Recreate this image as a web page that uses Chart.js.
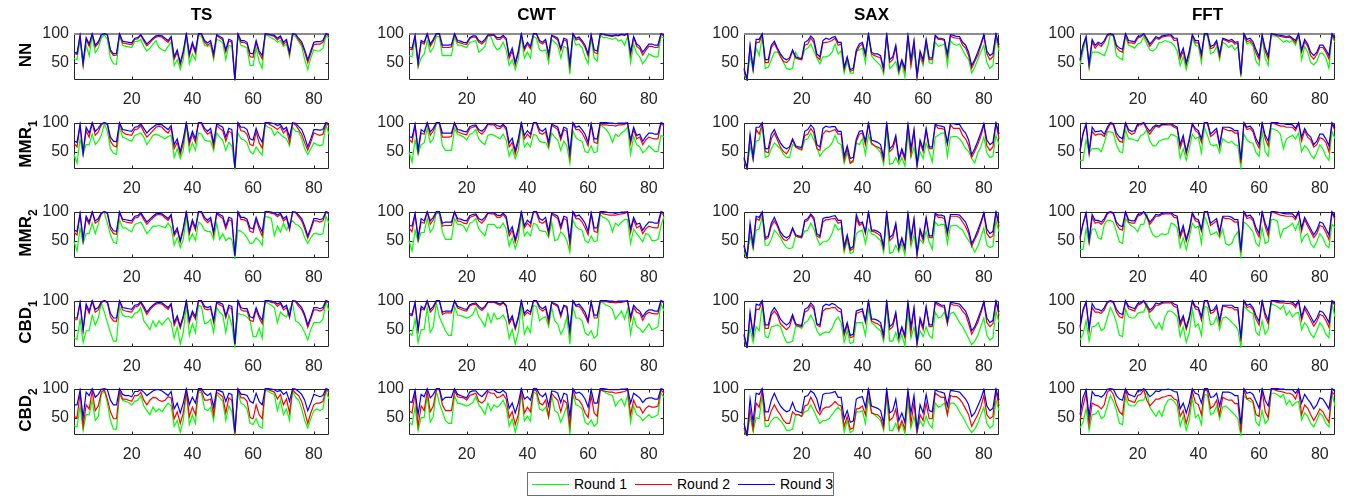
<!DOCTYPE html>
<html>
<head>
<meta charset="utf-8">
<script src="https://cdn.jsdelivr.net/npm/chart.js@4.4.1/dist/chart.umd.min.js"></script>
<style>
  body { margin: 0; background: #fff; width: 1349px; height: 497px; position: relative; overflow: hidden;
         font-family: "Liberation Sans", Arial, sans-serif; }
  canvas { position: absolute; }
  .title { position: absolute; font-weight: bold; font-size: 17px; color: #000; transform: translate(-50%, -50%); white-space: nowrap; }
  .rowlab { position: absolute; width: 90px; height: 20px; line-height: 20px; text-align: center; font-weight: bold; font-size: 17px;
            color: #000; transform: translate(-50%, -50%) rotate(-90deg); white-space: nowrap; }
  .rowlab .sub { font-size: 12px; position: relative; top: 6px; }
  #legend { position: absolute; left: 527px; top: 472px; width: 305px; height: 22px; border: 1px solid #6e6e6e; background: #fff; }
  #legend .ln { position: absolute; top: 11px; width: 37px; height: 1px; }
  #legend .tx { position: absolute; top: 3px; font-size: 14px; line-height: 16px; color: #000; }
</style>
</head>
<body>
<div id="legend"></div>
<script>
// sample index 1..85
const xLabels = Array.from({ length: 85 }, (_, i) => i + 1);
const xTicks = [20, 40, 60, 80];
const yTicks = [50, 100];
const methods = ['TS', 'CWT', 'SAX', 'FFT'];
const models = ['NN', 'MMR|1', 'MMR|2', 'CBD|1', 'CBD|2'];
const rounds = ['Round 1', 'Round 2', 'Round 3'];
const roundColors = ['#00ff00', '#ff0000', '#0000ff'];

// ---- TS ----
const tsNN1 = [57,55,88,43,80,62,95,67,75,92, 98,90,58,48,47,96,80,78,77,76, 86,87,90,78,70,75,82,88,76,72, 70,78,86,45,55,38,55,96,48,65, 55,97,95,80,78,80,55,90,88,84, 55,80,78,18,95,80,78,75,45,45, 75,52,40,98,96,93,90,85,88,78, 82,60,97,95,86,78,55,38,58,72, 70,70,75,96,92];
const tsNN2 = [66,64,95,46,90,78,99,77,83,97, 100,97,69,62,63,99,84,83,82,81, 90,91,97,87,79,84,90,94,95,94, 89,85,93,56,68,46,66,99,61,81, 66,99,99,85,80,84,60,97,93,89, 68,87,85,20,99,85,85,82,60,59, 85,66,56,100,98,97,95,89,94,81, 87,64,99,98,89,82,68,50,66,81, 82,82,85,99,96];
const tsNN3 = [68,66,97,50,93,82,100,80,86,98, 100,98,72,65,66,100,87,86,85,84, 92,93,98,90,82,87,92,96,97,96, 92,88,95,60,72,50,70,100,65,85, 70,100,100,88,84,88,65,98,95,92, 72,90,88,20,100,88,88,85,66,65, 88,70,62,100,99,98,97,92,96,85, 90,68,100,99,92,86,72,55,70,85, 86,86,88,100,98];
const tsM11 = [45,30,72,45,62,62,80,62,68,78, 98,85,55,47,45,92,75,73,70,68, 78,80,82,75,62,70,78,80,78,75, 72,76,78,40,55,38,52,95,50,65, 52,82,80,70,68,68,52,82,75,70, 52,66,60,20,82,72,70,65,50,46, 58,50,44,96,92,90,78,85,80,75, 72,60,92,85,84,72,55,45,55,65, 62,60,62,96,80];
const tsM12 = [64,58,95,46,86,75,99,78,84,96, 100,96,68,60,58,99,84,80,79,78, 88,89,95,84,75,80,86,92,94,92, 86,82,91,55,66,45,64,99,62,80, 66,99,98,86,80,84,58,95,90,86, 68,85,82,22,99,86,85,80,62,60, 84,65,56,100,98,95,92,88,93,82, 88,65,99,96,88,80,65,52,66,82, 80,78,80,99,94];
const tsM13 = [68,66,97,48,92,82,100,85,90,98, 100,98,75,68,67,100,88,87,86,85, 92,93,98,90,82,88,92,96,97,96, 92,88,95,62,72,50,72,100,68,85, 72,100,100,90,85,90,65,98,95,92, 75,90,88,22,100,92,92,88,72,70, 90,75,66,100,100,99,98,95,97,88, 92,75,100,99,93,88,75,58,72,88, 88,87,88,100,98];
const tsM21 = [48,32,72,45,62,62,80,62,78,98, 98,80,60,47,45,86,72,72,68,65, 78,80,82,72,62,68,75,75,76,74, 72,80,72,42,55,38,52,90,50,62, 50,82,78,68,66,65,52,80,52,62, 50,55,52,20,68,66,62,55,45,46, 55,50,42,92,90,88,58,75,65,80, 68,80,84,78,76,70,55,45,55,62, 62,60,62,92,80];
const tsM22 = [64,60,95,50,88,78,99,80,84,96, 100,96,70,62,61,99,84,82,81,80, 89,90,96,86,78,84,89,94,95,94, 89,85,93,58,68,47,68,99,62,82, 68,99,98,86,81,86,60,96,92,88, 70,86,84,24,99,86,86,83,66,64, 86,70,58,100,99,97,96,91,95,84, 89,68,99,98,91,84,70,54,68,84, 84,82,84,99,96];
const tsM23 = [68,66,97,52,92,82,100,84,88,98, 100,98,75,67,66,100,87,86,85,84, 92,93,98,90,82,87,92,96,97,96, 92,88,95,62,72,50,72,100,66,86, 72,100,100,90,85,90,65,98,95,92, 75,90,88,24,100,90,90,87,72,70, 90,75,65,100,100,99,98,94,97,88, 92,72,100,99,94,88,75,58,72,88, 88,86,88,100,98];
const tsC11 = [36,33,68,28,48,48,75,58,70,96, 80,62,45,30,30,90,75,72,73,70, 78,80,88,65,58,50,65,55,65,58, 65,70,62,35,55,25,45,92,40,60, 45,92,90,60,62,68,45,88,80,75, 45,75,58,20,78,76,75,72,65,38, 38,52,35,98,95,92,88,62,80,75, 72,85,95,65,62,55,45,32,50,62, 62,62,68,98,82];
const tsC12 = [67,67,95,48,90,78,99,80,84,96, 100,96,72,65,64,99,84,82,81,80, 89,90,96,86,76,84,90,94,95,94, 89,85,93,57,70,52,70,99,62,78, 68,99,98,86,84,86,62,96,93,90, 70,88,86,25,99,84,82,82,66,64, 84,70,60,100,99,97,96,90,95,84, 88,70,99,98,90,84,72,54,68,84, 84,82,84,99,96];
const tsC13 = [70,70,97,50,94,82,100,85,88,98, 100,98,78,70,70,100,88,87,86,85, 92,93,98,90,80,87,92,96,97,96, 92,88,95,62,74,56,74,100,66,82, 72,100,100,90,88,90,66,98,96,94, 74,92,90,25,100,88,86,86,72,70, 88,74,66,100,100,99,98,94,97,88, 92,74,100,99,94,88,76,58,72,88, 88,86,88,100,98];
const tsC21 = [36,34,70,28,55,55,80,45,52,90, 96,75,45,30,30,90,80,78,76,72, 78,80,88,70,62,55,68,60,65,60, 68,75,70,35,45,25,45,92,38,55, 40,95,92,65,62,68,45,90,85,78, 45,70,60,20,92,75,72,65,40,38, 48,35,32,98,95,92,90,62,80,55, 65,45,95,85,80,65,45,32,48,62, 65,62,65,96,82];
const tsC22 = [52,50,92,35,72,65,96,62,70,94, 98,82,60,48,48,96,82,82,80,78, 88,88,94,80,72,80,85,84,80,78, 80,86,84,48,60,40,58,96,52,68, 55,98,96,80,80,82,55,94,90,86, 58,84,80,20,98,84,84,78,50,48, 72,55,48,99,98,96,94,82,90,72, 82,58,98,92,88,78,60,40,58,72, 75,75,78,98,94];
const tsC23 = [72,72,97,50,94,88,100,85,90,99, 100,98,80,72,72,100,90,88,88,86, 95,95,98,94,88,92,96,98,98,96, 92,88,95,65,75,58,75,100,72,85, 75,100,100,92,88,92,68,98,96,94, 78,92,90,25,100,90,90,88,78,75, 92,78,72,100,100,99,98,95,97,90, 94,78,100,99,95,90,80,62,75,90, 88,86,88,100,98];

// ---- CWT ----
const cwNN1 = [62,60,90,42,58,65,88,68,75,95, 95,62,62,62,62,95,80,80,78,76, 85,86,88,68,72,78,96,95,80,72, 75,85,72,45,55,38,55,95,58,68, 58,95,92,72,70,72,50,90,85,80, 58,78,75,30,95,80,82,76,60,48, 92,58,52,98,93,93,92,90,93,87, 89,80,95,50,82,66,60,48,55,65, 62,60,60,95,92];
const cwNN2 = [73,72,95,46,85,82,99,78,87,99, 99,76,76,76,77,99,85,84,82,81, 91,94,94,85,82,87,97,97,97,90, 90,95,89,57,70,46,66,99,71,82, 74,99,99,85,82,87,60,96,93,89, 71,89,87,44,99,89,91,85,76,61, 97,68,65,99,98,97,96,95,97,96, 98,97,99,63,93,78,74,63,71,78, 78,76,76,99,96];
const cwNN3 = [76,75,97,50,88,85,100,82,90,100, 100,80,80,80,81,100,88,87,85,84, 93,96,96,88,85,90,98,98,98,93, 93,97,92,62,75,50,70,100,75,85, 78,100,100,88,85,90,65,97,95,92, 75,92,90,48,100,92,94,88,80,65, 98,72,70,100,99,98,97,96,98,97, 99,98,100,68,95,82,78,68,75,82, 82,80,80,100,98];
const cwM11 = [50,32,70,45,62,65,90,65,72,98, 98,60,52,52,52,90,80,78,75,70, 80,82,88,72,66,62,78,80,78,75, 72,80,70,42,55,38,52,95,58,65, 58,80,78,68,66,66,55,82,75,70, 52,68,60,30,86,74,70,68,50,48, 60,48,50,98,92,88,80,66,80,76, 82,86,92,46,76,62,58,48,52,60, 55,50,50,78,75];
const cwM12 = [72,66,95,50,82,80,99,78,86,99, 99,75,75,75,76,99,84,82,80,79, 90,92,94,84,80,86,97,96,96,90, 90,95,88,58,66,46,66,99,72,80, 74,99,98,82,80,84,60,95,92,88, 70,88,85,40,99,88,88,82,72,60, 96,66,64,99,96,96,95,95,94,96, 96,97,99,64,88,72,75,62,70,75, 73,72,72,98,94];
const cwM13 = [76,74,97,52,88,84,100,84,90,100, 100,82,82,82,82,100,88,87,85,84, 93,95,96,88,85,90,98,98,98,95, 93,97,92,65,73,52,72,100,78,86, 80,100,100,88,85,90,66,97,95,92, 75,92,90,48,100,92,94,88,80,66, 98,72,72,100,100,100,99,99,98,99, 99,99,100,70,92,78,80,68,76,82, 82,80,80,100,98];
const cwM21 = [50,32,68,48,64,64,88,64,72,98, 96,65,52,52,52,88,78,78,75,66, 80,82,88,70,64,58,78,78,78,72, 72,80,70,40,55,36,52,95,58,65, 58,80,78,68,66,66,55,82,50,52, 65,60,50,30,86,74,70,68,50,46, 58,48,50,95,90,88,82,65,80,76, 82,86,86,45,70,62,55,48,62,60, 50,50,52,75,92];
const cwM22 = [72,65,95,52,82,80,99,78,86,99, 99,75,76,76,76,99,84,83,80,79, 90,92,94,84,80,86,97,96,96,90, 90,95,88,58,68,47,66,99,72,80, 74,99,98,82,80,84,60,95,92,88, 70,88,85,42,99,88,88,82,72,60, 96,66,64,99,96,95,94,94,94,95, 96,97,99,64,86,72,75,62,70,75, 73,72,72,98,94];
const cwM23 = [76,75,97,55,88,84,100,84,90,100, 100,80,82,82,82,100,88,87,85,84, 93,95,96,88,85,90,98,98,98,94, 93,97,92,64,74,52,72,100,76,85, 80,100,100,88,85,90,66,97,95,92, 75,92,90,50,100,92,94,88,80,66, 98,72,72,100,100,99,98,98,97,98, 99,99,100,70,90,78,80,68,76,82, 82,80,80,100,98];
const cwC11 = [45,40,68,28,50,50,88,45,55,96, 72,60,48,40,40,90,75,74,72,70, 72,76,88,72,65,55,78,62,78,68, 70,75,65,35,50,25,45,92,42,55, 45,92,90,65,70,72,55,88,65,60, 42,52,72,25,90,70,70,65,45,40, 48,35,40,98,96,92,90,85,68,75, 82,68,85,42,72,55,52,45,52,60, 50,52,55,95,82];
const cwC12 = [75,74,95,48,86,84,99,80,86,99, 99,76,79,79,79,99,87,85,83,82, 91,93,94,87,83,88,97,97,97,94, 92,96,90,60,70,50,68,99,74,80, 76,99,99,86,82,86,62,96,93,90, 72,90,88,44,99,90,90,84,74,62, 97,70,70,99,98,98,97,97,96,97, 97,98,99,66,88,80,78,66,76,80, 78,77,77,99,96];
const cwC13 = [78,76,97,50,90,86,100,84,90,100, 100,80,82,82,82,100,90,88,86,85, 93,95,96,90,86,90,98,98,98,96, 94,97,92,64,74,54,72,100,78,84, 80,100,100,90,86,90,68,97,95,92, 76,92,90,48,100,92,94,88,80,66, 98,75,75,100,100,100,99,99,98,99, 99,99,100,72,92,86,82,72,80,84, 84,82,82,100,98];
const cwC21 = [42,38,68,28,50,50,88,42,52,96, 75,60,45,40,40,88,75,74,72,70, 72,76,86,72,65,55,75,62,72,68, 72,80,68,35,48,25,45,92,44,52, 44,95,90,65,62,68,50,88,62,58, 42,55,70,22,90,72,70,65,42,38, 46,35,40,98,96,92,90,88,70,78, 82,70,88,42,70,55,52,45,50,55, 50,52,55,92,85];
const cwC22 = [62,58,92,35,70,62,96,60,70,98, 98,72,62,62,62,96,86,85,84,80, 88,90,92,78,75,80,95,92,92,84, 86,90,82,50,60,38,55,98,58,68, 60,98,96,75,72,80,52,92,85,80, 60,80,75,35,98,82,80,72,58,50, 88,58,52,99,96,95,94,94,92,93, 94,95,98,55,80,68,68,58,66,70, 68,68,70,98,92];
const cwC23 = [78,76,97,55,90,86,100,84,90,100, 100,80,85,85,85,100,90,88,86,84, 94,96,96,90,86,92,98,98,98,94, 93,97,92,66,75,58,75,100,82,86, 80,100,100,90,86,92,70,96,95,92, 76,92,90,52,100,92,94,90,82,68, 98,75,75,100,100,99,98,98,98,98, 99,99,100,75,92,88,84,76,82,84, 84,82,82,100,98];

// ---- SAX ----
const sxNN1 = [30,20,62,35,75,62,96,40,42,55, 68,68,62,50,40,38,40,68,58,55, 72,75,82,70,58,48,60,60,62,68, 82,65,70,32,52,32,32,70,72,75, 50,97,62,55,50,45,30,97,40,45, 52,30,50,25,92,45,72,25,60,45, 80,50,48,85,78,80,82,45,88,82, 80,82,72,62,55,32,42,55,68,80, 50,40,45,92,70];
const sxNN2 = [38,20,78,38,85,85,98,50,50,76, 83,72,60,52,50,55,70,58,56,55, 80,82,92,85,60,55,84,85,86,88, 92,80,82,38,58,35,37,68,78,82, 62,98,65,62,60,58,36,98,50,55, 76,35,52,36,96,45,85,25,65,50, 87,55,55,96,90,90,88,60,96,93, 92,92,80,75,62,40,52,62,78,96, 65,55,60,98,76];
const sxNN3 = [40,22,80,40,90,90,100,55,55,80, 87,75,65,58,55,58,72,60,58,57, 85,88,96,90,65,60,88,92,90,93, 95,85,85,42,60,38,40,72,82,85, 65,100,68,65,65,62,40,100,55,60, 80,38,55,40,98,55,88,28,70,55, 90,58,58,97,92,92,90,65,98,97, 95,95,85,80,68,45,55,68,82,98, 70,62,66,100,80];
const sxM11 = [35,20,60,35,68,70,95,40,42,55, 65,60,55,45,40,40,62,60,55,52, 70,72,82,70,58,42,50,55,58,65, 78,65,62,30,48,30,32,65,62,72, 45,78,62,60,55,48,28,88,28,30, 40,28,40,25,80,40,58,25,50,38, 65,50,32,75,78,82,82,42,75,76, 76,72,65,55,50,38,30,48,58,75, 48,40,42,78,62];
const sxM12 = [38,20,75,38,88,80,98,50,48,72, 82,70,58,50,46,55,70,58,55,54, 78,80,90,82,55,52,80,86,84,86, 88,80,80,35,55,30,35,68,80,82, 62,98,65,60,58,55,35,98,50,55, 72,35,50,36,96,45,85,25,65,50, 87,55,55,96,90,90,88,62,96,90, 90,90,78,72,60,40,50,62,76,96, 60,52,58,98,72];
const sxM13 = [40,22,80,40,92,92,100,55,55,80, 88,75,65,58,55,58,72,60,58,57, 85,88,96,90,62,58,90,94,92,93, 93,85,85,42,60,38,40,72,85,86, 68,100,70,68,66,62,40,100,55,60, 78,38,55,40,98,55,88,28,70,55, 90,58,58,97,95,94,92,65,98,98, 97,97,88,82,70,45,55,68,82,98, 70,62,66,100,80];
const sxM21 = [30,20,58,35,68,70,92,42,42,52, 68,62,55,45,38,36,38,58,56,55, 66,68,80,70,55,42,48,48,52,62, 78,68,72,30,50,28,30,62,66,68, 45,70,62,60,55,50,30,92,28,30, 42,30,45,25,82,40,60,27,52,45, 66,48,35,82,76,78,78,45,75,76, 76,72,68,58,50,42,30,40,55,72, 42,38,40,85,65];
const sxM22 = [40,20,72,40,88,85,98,52,55,75, 84,75,60,52,50,55,70,58,56,55, 82,85,94,86,58,55,82,86,86,88, 88,80,82,35,56,33,36,88,76,80, 62,98,66,65,62,58,36,98,50,55, 76,35,52,35,96,48,85,25,65,50, 87,55,55,96,90,90,88,60,92,92, 92,90,82,74,62,40,52,62,78,96, 62,55,58,98,74];
const sxM23 = [42,22,80,42,92,90,100,55,58,80, 90,78,65,58,55,58,72,60,58,57, 85,88,96,90,62,58,88,90,90,92, 93,85,85,40,60,36,40,95,80,82, 65,100,68,68,66,62,40,100,55,60, 80,38,55,38,98,55,88,28,70,55, 90,58,58,97,94,94,92,65,95,95, 95,94,88,82,68,45,55,68,82,98, 70,62,66,100,80];
const sxC11 = [35,18,52,28,55,48,92,38,36,55, 56,58,55,40,28,28,30,55,55,52, 62,65,75,65,48,40,44,46,45,52, 65,72,62,28,48,26,28,62,62,62, 40,85,62,58,52,48,30,90,30,30, 45,28,42,22,80,35,55,25,48,38, 55,40,35,80,70,72,80,60,78,80, 72,62,55,45,35,24,30,40,55,70, 40,32,36,82,62];
const sxC12 = [40,18,75,40,85,85,98,52,52,75, 82,75,60,55,50,55,72,58,56,55, 80,83,92,85,58,55,82,86,86,88, 88,82,80,40,58,36,38,78,80,82, 62,98,65,62,60,56,36,98,50,55, 76,35,52,36,96,45,85,25,65,50, 87,55,55,96,92,90,88,60,95,92, 92,90,82,76,60,42,52,62,78,96, 62,55,60,98,74];
const sxC13 = [42,20,80,42,94,92,100,58,58,80, 88,80,68,62,58,62,76,60,58,57, 85,88,96,90,60,58,90,94,92,95, 93,88,85,45,62,40,42,82,84,86, 65,100,68,68,66,62,40,100,55,60, 80,38,55,40,98,55,88,28,70,55, 90,58,58,98,95,92,92,65,97,96, 95,94,88,82,68,48,55,68,82,98, 70,62,66,100,80];
const sxC21 = [28,18,52,26,50,48,88,35,35,45, 50,50,45,38,28,28,30,55,55,52, 60,62,72,62,50,40,45,45,48,55, 62,68,62,25,45,24,28,60,60,62, 40,82,60,55,50,45,28,85,28,28, 40,26,40,22,78,32,52,25,45,35, 52,38,32,75,68,70,75,55,75,75, 70,60,52,42,32,24,30,40,55,68, 40,32,36,80,62];
const sxC22 = [32,18,65,30,75,68,98,45,45,62, 72,62,55,45,40,40,60,55,55,52, 70,72,85,75,62,55,65,68,68,72, 78,72,70,35,52,30,32,65,66,70, 55,98,58,56,55,50,32,95,45,50, 65,30,45,30,95,40,75,25,55,45, 75,48,48,92,88,85,85,55,88,86, 86,82,75,65,55,35,45,55,68,88, 55,48,52,95,70];
const sxC23 = [40,20,82,42,92,90,100,60,60,80, 92,80,70,64,60,62,76,62,60,58, 86,88,96,92,82,62,90,92,92,93, 95,85,85,48,62,42,44,82,85,86, 68,100,70,68,66,62,40,100,58,62, 82,45,58,42,98,58,88,30,72,58, 90,62,60,98,95,94,92,70,97,96, 95,94,88,82,72,52,58,70,82,98, 70,62,66,100,80];

// ---- FFT ----
const ftNN1 = [45,70,90,40,68,68,68,65,62,75, 98,95,62,58,55,95,80,78,75,82, 84,95,82,72,70,74,84,85,88,86, 85,80,70,45,60,38,58,92,80,78, 50,98,96,65,68,78,55,85,82,76, 80,72,78,25,96,82,85,78,52,45, 92,58,45,96,96,95,90,85,88,85, 88,80,96,55,78,68,50,46,52,66, 66,58,40,95,85];
const ftNN2 = [53,78,93,44,86,75,82,78,85,96, 99,97,76,70,68,99,84,84,83,92, 94,99,89,78,85,92,90,94,95,96, 96,88,89,56,70,46,66,97,84,84, 60,99,99,74,76,85,60,90,88,85, 87,82,83,28,99,86,88,82,66,55, 96,70,56,99,98,96,95,94,93,94, 90,84,99,68,86,78,62,56,64,76, 76,68,56,98,88];
const ftNN3 = [55,80,95,48,90,80,85,82,88,98, 100,98,80,75,73,100,88,87,86,95, 96,100,92,82,88,95,92,96,97,98, 98,92,92,62,75,50,70,98,88,88, 65,100,100,78,80,88,65,92,90,88, 90,85,86,30,100,90,92,86,72,60, 98,75,62,100,99,98,97,96,95,96, 92,88,100,72,90,82,68,62,68,80, 80,72,62,100,92];
const ftM11 = [35,35,70,48,55,55,55,50,65,84, 84,82,62,50,48,88,72,72,70,68, 78,80,88,68,60,60,68,70,72,72, 80,78,75,38,55,35,55,80,72,75, 48,92,78,62,60,62,48,72,68,65, 68,62,60,22,80,70,66,64,48,42, 85,50,42,90,88,86,80,55,72,75, 78,72,82,50,60,55,45,38,48,62, 55,42,35,85,72];
const ftM12 = [50,80,96,46,85,78,80,80,76,88, 98,96,76,68,66,99,84,80,82,96, 96,99,88,80,88,94,92,96,96,96, 96,92,90,56,72,46,68,97,86,82, 66,99,98,76,80,86,58,90,88,86, 86,82,82,30,99,88,90,84,66,56, 98,72,60,99,98,96,94,94,92,92, 92,86,99,68,86,75,70,58,62,74, 72,66,50,98,86];
const ftM13 = [52,82,98,50,92,84,85,86,80,92, 100,98,82,75,72,100,88,85,86,98, 98,100,92,85,92,96,94,97,97,98, 98,95,92,62,78,50,72,98,90,86, 72,100,100,80,85,90,62,92,92,92, 90,86,86,36,100,92,94,88,72,62, 100,78,68,100,100,100,98,98,97,97, 96,90,100,75,90,80,75,62,68,80, 80,72,60,100,90];
const ftM21 = [35,35,70,45,70,70,55,52,78,85, 85,82,65,48,45,88,80,75,72,65, 78,78,96,72,60,56,58,62,60,62, 80,78,72,38,55,34,55,80,72,75, 45,92,80,60,62,65,55,70,45,42, 45,58,65,22,82,78,72,65,45,40, 72,45,48,86,86,84,56,70,72,75, 80,68,82,48,58,62,45,38,48,62, 55,42,38,78,72];
const ftM22 = [52,78,96,48,90,80,82,78,84,96, 99,96,78,70,68,99,82,80,80,92, 94,99,90,78,85,92,92,95,96,96, 96,90,89,55,70,48,66,96,84,82, 66,99,98,76,80,84,60,90,88,88, 86,82,82,30,99,88,90,84,66,56, 98,74,58,99,98,96,94,93,92,92, 92,86,99,66,86,75,65,55,62,76, 74,64,52,98,86];
const ftM23 = [55,80,98,52,95,85,85,82,88,98, 100,98,82,76,74,100,86,84,84,95, 96,100,92,82,88,95,94,97,98,98, 98,94,92,60,76,52,70,98,88,86, 70,100,100,80,84,88,65,92,92,92, 90,86,86,34,100,92,94,88,72,62, 100,80,66,100,100,99,98,97,96,96, 96,90,100,72,90,80,70,60,68,82, 80,70,60,100,90];
const ftC11 = [32,42,65,30,55,56,62,48,52,70, 88,78,62,40,38,85,72,70,70,78, 80,80,95,70,62,52,62,50,72,82, 82,78,72,38,55,28,45,85,55,60, 40,90,88,58,60,72,50,70,72,68, 62,58,50,20,90,85,80,78,45,40, 65,42,50,95,92,90,85,92,75,82, 72,78,80,50,62,55,42,36,48,62, 55,42,36,95,72];
const ftC12 = [52,82,96,48,88,80,80,78,84,96, 99,96,80,72,70,99,86,84,82,92, 94,99,88,80,85,92,92,95,96,96, 96,90,88,56,70,50,68,98,86,84, 66,99,98,78,80,88,60,90,90,88, 88,84,84,30,99,88,90,84,68,58, 98,72,60,99,98,97,96,96,95,95, 94,88,99,66,86,76,66,56,64,76, 74,66,54,98,92];
const ftC13 = [55,85,98,52,95,86,85,82,88,98, 100,98,85,78,76,100,90,88,86,95, 96,100,92,84,88,96,94,97,98,98, 98,94,92,62,74,54,72,100,90,88, 72,100,100,82,84,92,66,92,92,92, 92,88,88,35,100,92,94,88,74,64, 100,78,66,100,100,100,99,99,98,98, 97,92,100,72,90,82,72,62,70,82, 80,72,62,100,95];
const ftC21 = [32,42,65,28,55,56,62,48,52,70, 88,78,62,40,38,85,72,70,70,78, 80,80,95,68,60,52,62,52,70,80, 82,78,70,35,52,28,45,85,50,55, 38,90,88,55,58,70,48,68,70,65, 60,55,48,18,88,82,78,75,42,36, 62,40,46,92,92,90,85,90,72,80, 70,76,78,46,58,52,40,34,45,58, 52,40,34,92,70];
const ftC22 = [45,70,92,38,75,72,70,65,72,94, 98,90,72,60,55,98,80,78,76,88, 90,98,80,70,76,82,82,85,86,88, 88,82,80,52,62,40,60,96,76,72, 55,98,96,66,70,80,55,85,82,80, 80,74,74,25,98,82,84,78,55,52, 96,60,50,99,98,96,95,94,92,92, 90,82,98,55,72,66,55,45,54,65, 60,50,42,95,88];
const ftC23 = [55,85,98,52,95,88,88,85,90,99, 100,99,88,82,80,100,90,88,86,96, 96,100,94,86,90,96,95,98,98,99, 98,95,94,65,75,58,75,100,92,90, 75,100,100,85,86,92,70,94,94,94, 92,88,88,38,100,92,94,90,78,66, 100,80,70,100,100,100,99,99,98,98, 98,92,100,75,90,82,75,65,72,84, 82,74,65,100,95];

// rows = models, columns = methods, each cell = [round1, round2, round3]
const grid = [
  [[tsNN1, tsNN2, tsNN3], [cwNN1, cwNN2, cwNN3], [sxNN1, sxNN2, sxNN3], [ftNN1, ftNN2, ftNN3]],
  [[tsM11, tsM12, tsM13], [cwM11, cwM12, cwM13], [sxM11, sxM12, sxM13], [ftM11, ftM12, ftM13]],
  [[tsM21, tsM22, tsM23], [cwM21, cwM22, cwM23], [sxM21, sxM22, sxM23], [ftM21, ftM22, ftM23]],
  [[tsC11, tsC12, tsC13], [cwC11, cwC12, cwC13], [sxC11, sxC12, sxC13], [ftC11, ftC12, ftC13]],
  [[tsC21, tsC22, tsC23], [cwC21, cwC22, cwC23], [sxC21, sxC22, sxC23], [ftC21, ftC22, ftC23]]
];

// layout of the plot boxes (px)
const colLeft = [74, 409, 744, 1080];
const rowTop = [29, 118, 207, 296, 384];
const boxW = 255, boxH = 51;
const padL = 50, padT = 10, padR = 10, padB = 30;

Chart.defaults.font.family = '"Liberation Sans", Arial, sans-serif';
Chart.defaults.color = '#262626';

// box round the plot area with small inner ticks, like matlab axes
const framePlugin = {
  id: 'frame',
  beforeDatasetsDraw(chart, args, opts) {
    const { ctx, chartArea: a, scales } = chart;
    const l = Math.round(a.left) + 0.5, r = Math.round(a.right) - 0.5;
    const t = Math.round(a.top) + 0.5, b = Math.round(a.bottom) - 0.5;
    ctx.save();
    ctx.strokeStyle = '#262626';
    ctx.lineWidth = 1;
    ctx.beginPath();
    ctx.moveTo(l, t); ctx.lineTo(l, b); ctx.lineTo(r, b); ctx.lineTo(r, t);
    if (!opts.greyTop) ctx.lineTo(l, t);
    xTicks.forEach(v => {
      const px = Math.round(scales.x.getPixelForValue(v)) + 0.5;
      ctx.moveTo(px, b); ctx.lineTo(px, b - 3);
      ctx.moveTo(px, t); ctx.lineTo(px, t + 3);
    });
    yTicks.forEach(v => {
      const py = Math.round(scales.y.getPixelForValue(v)) + 0.5;
      ctx.moveTo(l, py); ctx.lineTo(l + 3, py);
      ctx.moveTo(r, py); ctx.lineTo(r - 3, py);
    });
    ctx.stroke();
    if (opts.greyTop) {
      // top edge of the first row renders as a soft grey double line
      ctx.strokeStyle = '#8c8c8c';
      ctx.lineWidth = 2;
      ctx.beginPath();
      ctx.moveTo(l - 0.5, Math.round(a.top));
      ctx.lineTo(r + 0.5, Math.round(a.top));
      ctx.stroke();
    }
    ctx.restore();
  }
};

function makePanel(r, c) {
  const cv = document.createElement('canvas');
  cv.width = boxW + padL + padR;
  cv.height = boxH + padT + padB;
  cv.style.left = (colLeft[c] - padL) + 'px';
  cv.style.top = (rowTop[r] - padT) + 'px';
  document.body.appendChild(cv);

  const series = grid[r][c];
  new Chart(cv, {
    type: 'line',
    data: {
      labels: xLabels,
      datasets: series.map((d, k) => ({
        label: rounds[k],
        data: d,
        borderColor: roundColors[k],
        borderWidth: 1.2,
        pointRadius: 0,
        tension: 0,
        fill: false,
        clip: 1,
        order: 3 - k
      }))
    },
    options: {
      responsive: false,
      animation: false,
      events: [],
      layout: { padding: { top: padT, right: padR, left: 0, bottom: 0 } },
      plugins: { legend: { display: false }, tooltip: { enabled: false }, frame: { greyTop: r === 0 } },
      scales: {
        x: {
          type: 'linear', min: 1, max: 85,
          grid: { display: false, drawTicks: false },
          border: { display: false },
          ticks: { font: { size: 16 }, color: '#262626', padding: 10, maxRotation: 0 },
          afterBuildTicks: s => { s.ticks = xTicks.map(v => ({ value: v })); },
          afterFit: s => { s.height = padB; }
        },
        y: {
          min: 20, max: 100,
          grid: { display: false, drawTicks: false },
          border: { display: false },
          ticks: { font: { size: 16 }, color: '#262626', padding: 5 },
          afterBuildTicks: s => { s.ticks = yTicks.map(v => ({ value: v })); },
          afterFit: s => { s.width = padL; }
        }
      }
    },
    plugins: [framePlugin]
  });
}

for (let r = 0; r < models.length; r++) {
  for (let c = 0; c < methods.length; c++) makePanel(r, c);
}

// column titles
methods.forEach((m, c) => {
  const d = document.createElement('div');
  d.className = 'title';
  d.textContent = m;
  d.style.left = (colLeft[c] + boxW / 2) + 'px';
  d.style.top = '15px';
  document.body.appendChild(d);
});

// row labels (rotated, with subscript)
models.forEach((m, r) => {
  const d = document.createElement('div');
  d.className = 'rowlab';
  const parts = m.split('|');
  d.textContent = parts[0];
  if (parts[1]) {
    const s = document.createElement('span');
    s.className = 'sub';
    s.textContent = parts[1];
    d.appendChild(s);
  }
  d.style.left = '26px';
  d.style.top = (rowTop[r] + boxH / 2) + 'px';
  document.body.appendChild(d);
});

// legend
const leg = document.getElementById('legend');
const legX = [4, 107, 210];
rounds.forEach((name, k) => {
  const ln = document.createElement('div');
  ln.className = 'ln';
  ln.style.left = legX[k] + 'px';
  ln.style.background = roundColors[k];
  leg.appendChild(ln);
  const tx = document.createElement('div');
  tx.className = 'tx';
  tx.style.left = (legX[k] + 42) + 'px';
  tx.textContent = name;
  leg.appendChild(tx);
});
</script>
</body>
</html>
